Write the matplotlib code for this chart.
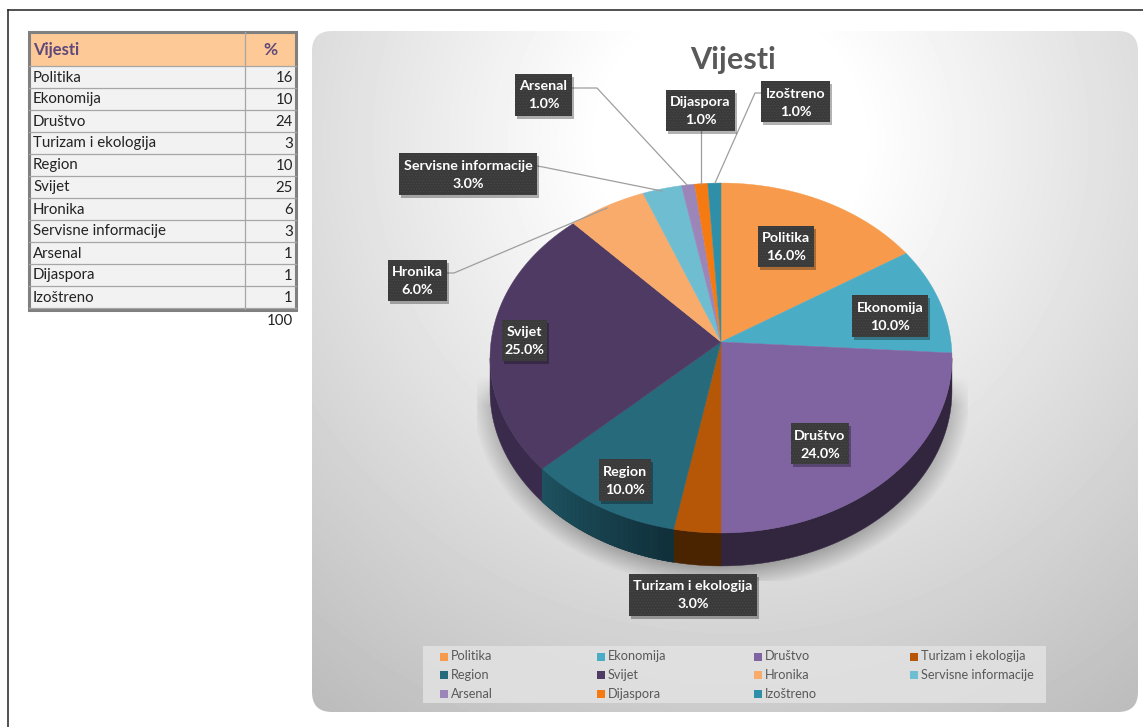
import numpy as np
import matplotlib
matplotlib.use('Agg')
import matplotlib.pyplot as plt
from matplotlib.colors import to_rgb
from matplotlib.patches import Rectangle, FancyBboxPatch

plt.rcParams['font.family'] = ['Lato', 'DejaVu Sans']
plt.rcParams['hatch.linewidth'] = 0.5

# podaci
kategorije = ['Politika', 'Ekonomija', 'Društvo', 'Turizam i ekologija', 'Region', 'Svijet',
              'Hronika', 'Servisne informacije', 'Arsenal', 'Dijaspora', 'Izoštreno']
vrijednosti = [16, 10, 24, 3, 10, 25, 6, 3, 1, 1, 1]
ukupno = 100
boje = ['#F79A4B', '#4BACC6', '#8064A2', '#B65708', '#276A7C', '#4F3A63',
        '#F9AB6B', '#6FBDD1', '#9C85B8', '#F57A12', '#2F8FA8']
boje_strane = ['#A0602A', '#2C6E80', '#32263F', '#4A2300', '#10303A', '#3A2A4B',
               '#A06A3A', '#3F7F90', '#5C4A75', '#A04E08', '#1B5A6C']

fig = plt.figure(figsize=(11.43, 7.27), dpi=100)
ax = fig.add_axes([0, 0, 1, 1])
ax.set_xlim(0, 1143)
ax.set_ylim(727, 0)
ax.axis('off')

# okvir slike
ax.plot([8, 8], [727, 10], color='#222222', lw=1.1)
ax.plot([8, 1143], [10, 10], color='#222222', lw=1.1)

# tabela
ax.add_patch(Rectangle((29, 66), 267, 243, fc='#F2F2F2', ec='none'))
ax.add_patch(Rectangle((29, 32), 267, 34, fc='#FDC997', ec='none'))
for i in range(len(kategorije) + 1):
    ax.plot([29, 296], [66 + i * 22, 66 + i * 22], color='#A6A6A6', lw=0.9)
ax.plot([245, 245], [32, 309], color='#A6A6A6', lw=0.9)
ax.add_patch(Rectangle((29, 32), 267, 277.5, fc='none', ec='#808080', lw=2.2))
ax.text(33, 50, 'Vijesti', fontsize=12, fontweight='bold', color='#5F497A', va='center')
ax.text(270, 50, '%', fontsize=12.5, fontweight='bold', color='#5F497A', va='center', ha='center')
for i, (k, v) in enumerate(zip(kategorije, vrijednosti)):
    ax.text(33, 77.5 + i * 22, k, fontsize=10.8, color='#222222', va='center')
    ax.text(293, 77.5 + i * 22, str(v), fontsize=10.8, color='#222222', va='center', ha='right')
ax.text(293, 321, str(ukupno), fontsize=10.8, color='#222222', va='center', ha='right')

# pozadina grafikona
yy, xx = np.mgrid[31:713, 312:1139]
d = np.hypot(xx - 730, yy - 140)
siva = 255 - 0.118 * np.clip(d - 130, 0, None)
panel = FancyBboxPatch((332, 51), 786, 641, boxstyle='round,pad=20,rounding_size=20',
                       fc='none', ec='none')
ax.add_patch(panel)
im = ax.imshow(siva, extent=(312, 1139, 713, 31), cmap='gray', vmin=0, vmax=255,
               aspect='auto', zorder=1)
im.set_clip_path(panel)

# sjenka ispod pite
yy, xx = np.mgrid[375:581, 477:968]
r = np.sqrt(((xx - 721) / 250.0) ** 2 + ((yy - 395) / 193.0) ** 2)
sjena = np.clip((1.0 - r) / 0.12, 0, 1) * 0.3
sjena = sjena * np.clip((yy - 375) / 30.0, 0, 1)
slika = np.zeros(sjena.shape + (4,))
slika[..., 3] = sjena
ax.imshow(slika, extent=(477, 968, 581, 375), aspect='auto', zorder=2)
ax.set_xlim(0, 1143)
ax.set_ylim(727, 0)

# pita sa perspektivom
cx, cy, Rx, Ry, k, dubina = 721, 342, 230, 173.5, 0.0914, 33


def tacka(theta):
    c, s = np.sin(theta), -np.cos(theta)
    z = 1 - k * s
    return cx + Rx * c / z, cy + Ry * s / z


granice = 2 * np.pi * np.cumsum([0] + vrijednosti) / ukupno
t_min, t_max = np.pi / 2 + np.arcsin(k), 3 * np.pi / 2 - np.arcsin(k)
for i in range(len(vrijednosti)):
    a, b = max(granice[i], t_min), min(granice[i + 1], t_max)
    if a < b:
        t = np.linspace(a, b, 60)
        x, y = tacka(t)
        ax.fill(np.r_[x, x[::-1]], np.r_[y, y[::-1] + dubina], color=boje_strane[i], lw=0.3, zorder=3)

# strana segmenta Region je svjetlija lijevo
i = kategorije.index('Region')
t = np.linspace(granice[i], granice[i + 1], 31)
tamna, svijetla = np.array(to_rgb('#10303A')), np.array(to_rgb('#1E5260'))
for j in range(30):
    x, y = tacka(t[j:j + 2])
    boja = tamna + (svijetla - tamna) * j / 29
    ax.fill(np.r_[x, x[::-1]], np.r_[y, y[::-1] + dubina], color=boja, lw=0.4, zorder=3)

for i in range(len(vrijednosti)):
    t = np.linspace(granice[i], granice[i + 1], 80)
    x, y = tacka(t)
    ax.fill(np.r_[cx, x], np.r_[cy, y], color=boje[i], lw=0.3, zorder=4)

# linije do natpisa
sive = '#9E9E9E'
ax.plot([572, 597, 687], [88, 88, 185], color=sive, lw=0.9, zorder=5)
ax.plot([701, 701], [131, 184], color=sive, lw=0.9, zorder=5)
ax.plot([761, 755, 715], [93, 93, 183], color=sive, lw=0.9, zorder=5)
ax.plot([537, 543, 662], [166, 167, 191], color=sive, lw=0.9, zorder=5)
ax.plot([447, 454, 607], [273, 273, 208], color=sive, lw=0.9, zorder=5)

# natpisi: lijevo, desno, gore, dolje
kutije = {'Politika': (758, 814, 226, 267), 'Ekonomija': (852, 928, 295, 337),
          'Društvo': (791, 849, 423, 464), 'Turizam i ekologija': (629, 757, 574, 616),
          'Region': (599, 651, 459, 501), 'Svijet': (502, 547, 320, 361),
          'Hronika': (388, 447, 260, 301), 'Servisne informacije': (399, 537, 153, 195),
          'Arsenal': (515, 572, 74, 116), 'Dijaspora': (666, 735, 90, 131),
          'Izoštreno': (761, 830, 81, 122)}
for ime, v in zip(kategorije, vrijednosti):
    x0, x1, y0, y1 = kutije[ime]
    ax.add_patch(Rectangle((x0 + 2, y0 + 3), x1 - x0, y1 - y0, fc='black', alpha=0.3, ec='none', zorder=6))
    ax.add_patch(Rectangle((x0, y0), x1 - x0, y1 - y0, fc='#3A3A3A', ec='#484848', hatch='......', lw=0, zorder=7))
    ax.text((x0 + x1) / 2, y0 + 12.5, ime, color='white', fontsize=10.3, fontweight='bold',
            ha='center', va='center', zorder=8)
    ax.text((x0 + x1) / 2, y0 + 30.5, f'{v:.1f}%', color='white', fontsize=10.3, fontweight='bold',
            ha='center', va='center', zorder=8)

ax.text(733, 60, 'Vijesti', fontsize=22, fontweight='bold', color='#595959', ha='center', va='center', zorder=5)

# legenda
ax.add_patch(Rectangle((423, 646), 623, 57, fc='#E2E2E2', ec='none', alpha=0.85, zorder=5))
kol_x = [440, 597, 754, 910]
red_y = [656.5, 675, 693.5]
for i, (ime, b) in enumerate(zip(kategorije, boje)):
    x = kol_x[i % 4]
    y = red_y[i // 4]
    ax.add_patch(Rectangle((x, y - 4), 8, 8, fc=b, ec='none', zorder=6))
    ax.text(x + 11, y, ime, fontsize=9.2, color='#595959', va='center', zorder=6)

fig.savefig('out.png', dpi=100)
